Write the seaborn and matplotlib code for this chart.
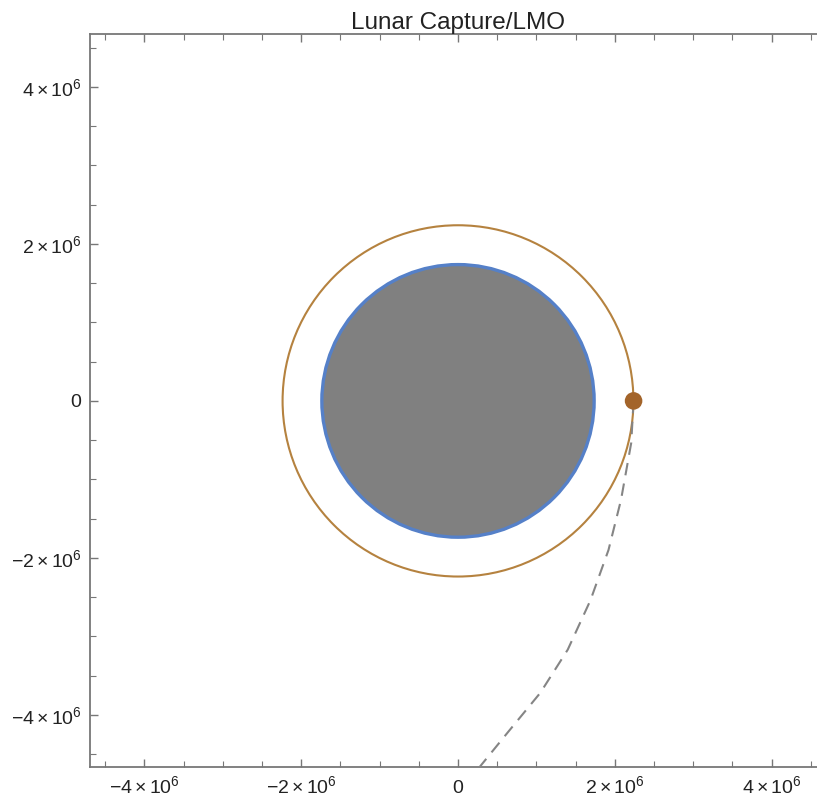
import numpy as np
import pandas as pd
import seaborn as sns
import matplotlib
matplotlib.use("Agg")
import matplotlib.pyplot as plt
from matplotlib.patches import Circle
from matplotlib.ticker import MultipleLocator, FixedLocator, FixedFormatter
from matplotlib.transforms import ScaledTranslation

# ---- data (metres) ----
moon_radius = 1.737e6
orbit_radius = 2.238e6
capture_x = [2.24e6]
capture_y = [0.0]
traj_x = [2.24e6, 2.21e6, 2.08e6, 1.92e6, 1.69e6, 1.40e6, 1.05e6, 0.63e6, 0.28e6, 0.20e6]
traj_y = [0.0, -0.535e6, -1.26e6, -1.90e6, -2.54e6, -3.17e6, -3.72e6, -4.23e6, -4.66e6, -4.75e6]
tick_vals = [-4e6, -2e6, 0, 2e6, 4e6]
tick_labels = [r"$-4\times10^{6}$", r"$-2\times10^{6}$", r"$0$", r"$2\times10^{6}$", r"$4\times10^{6}$"]
title = "Lunar Capture/LMO"

sns.set_theme(style="white")
plt.rcParams['font.family'] = ['Liberation Sans', 'DejaVu Sans']
plt.rcParams['mathtext.fontset'] = 'custom'
plt.rcParams['mathtext.rm'] = 'Liberation Sans'
plt.rcParams['mathtext.it'] = 'Liberation Sans'
plt.rcParams['mathtext.bf'] = 'Liberation Sans'

fig = plt.figure(figsize=(8.17, 8.0), dpi=100)
ax = fig.add_axes([90/817, 1-767/800, (826-90)/817, (767-34)/800])

# Moon
ax.add_patch(Circle((0, 0), moon_radius, facecolor="#808080", edgecolor="#5580c8", lw=2.4, zorder=2))
# Orbit
ax.add_patch(Circle((0, 0), orbit_radius, facecolor="none", edgecolor="#b5823f", lw=1.5, zorder=3))

traj = pd.DataFrame({"x": traj_x, "y": traj_y})
sns.lineplot(data=traj, x="x", y="y", sort=False, ax=ax, color="#858585",
             lw=1.5, dashes=False, zorder=4)
ax.lines[-1].set_dashes([6, 4])

cap = pd.DataFrame({"x": capture_x, "y": capture_y})
sns.scatterplot(data=cap, x="x", y="y", ax=ax, color="#a3642a", s=160,
                edgecolor="none", zorder=5)

ax.set_xlim(-4.695e6, 4.695e6)
ax.set_ylim(-4.665e6, 4.675e6)
ax.set_xlabel("")
ax.set_ylabel("")

for a in (ax.xaxis, ax.yaxis):
    a.set_major_locator(FixedLocator(tick_vals))
    a.set_major_formatter(FixedFormatter(tick_labels))
    a.set_minor_locator(MultipleLocator(0.5e6))

ax.tick_params(which="both", direction="in", top=True, right=True, bottom=True, left=True,
               color="#777777", labelsize=14, labelcolor="#222222")
ax.tick_params(which="major", length=6, width=1.0)
ax.tick_params(axis="x", which="major", pad=6)
ax.tick_params(axis="y", which="major", pad=6)
ax.tick_params(which="minor", length=4, width=0.8)

for s in ax.spines.values():
    s.set_color("#777777")
    s.set_linewidth(1.3)
    s.set_visible(True)

ax.set_title(title, fontsize=17.5, color="#222222", pad=3)

# align the "0" x tick label to the baseline of the others
fig.canvas.draw()
for t in ax.xaxis.get_major_ticks():
    if t.label1.get_text() == r"$0$":
        t.label1.set_transform(t.label1.get_transform()
                               + ScaledTranslation(0, -5/100, fig.dpi_scale_trans))

fig.savefig("out.png", dpi=100)
